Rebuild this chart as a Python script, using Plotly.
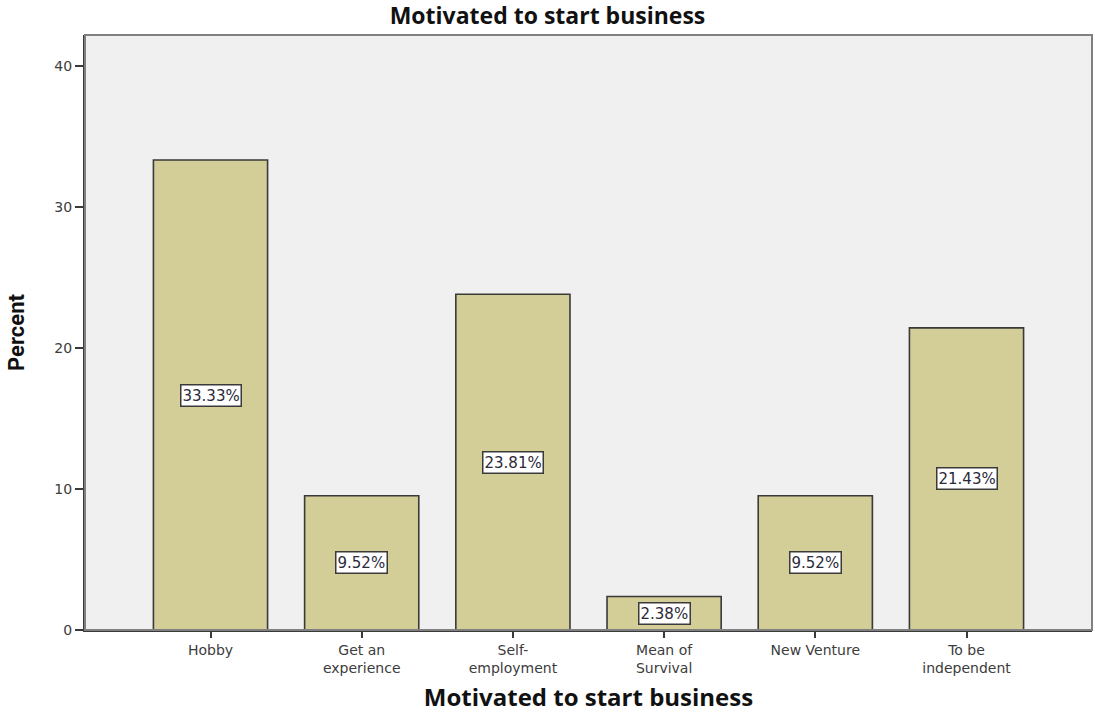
import plotly.graph_objects as go

# Motivation categories and their share of respondents (%)
categories = ["Hobby", "Get an<br>experience", "Self-<br>employment",
              "Mean of<br>Survival", "New Venture", "To be<br>independent"]
percent = [33.33, 9.52, 23.81, 2.38, 9.52, 21.43]
y_ticks = [0, 10, 20, 30, 40]

bar_fill = "#d3cd97"
edge = "#3a3a3a"
tick_font = dict(family="DejaVu Sans", size=14, color="#3c3c3c")

fig = go.Figure(
    go.Bar(
        x=list(range(len(categories))),
        y=percent,
        width=0.755,
        marker=dict(color=bar_fill, line=dict(color=edge, width=1.6)),
        hoverinfo="skip",
    )
)

# Value boxes at mid-height of each bar
for i, v in enumerate(percent):
    fig.add_annotation(
        x=i, y=v / 2, text=f"{v:.2f}%", showarrow=False,
        font=dict(family="DejaVu Sans", size=15, color="#2a2a3a"),
        bgcolor="white", bordercolor=edge, borderwidth=1.5, borderpad=1,
    )

# Plot frame
fig.add_shape(type="rect", xref="paper", yref="paper", x0=0, y0=0, x1=1, y1=1,
              line=dict(color="#808080", width=2), layer="above")

fig.update_layout(
    width=1095, height=713,
    margin=dict(l=85, r=3, t=35, b=83),
    paper_bgcolor="white",
    plot_bgcolor="#f0f0f0",
    showlegend=False,
    title=dict(text="<b>Motivated to start business</b>", x=0.5, xanchor="center",
               y=0.978, yanchor="middle",
               font=dict(family="Open Sans", size=23, color="#111111")),
    xaxis=dict(
        range=[-0.83, 5.83], tickmode="array",
        tickvals=list(range(len(categories))), ticktext=categories,
        ticks="outside", ticklen=6, tickwidth=2, tickcolor=edge,
        showline=True, linecolor=edge, linewidth=2,
        showgrid=False, zeroline=False, tickfont=tick_font,
        title=dict(text="<b>Motivated to start business</b>", standoff=14,
                   font=dict(family="Open Sans", size=24, color="#111111")),
    ),
    yaxis=dict(
        range=[0, 42.2], tickvals=y_ticks,
        ticks="outside", ticklen=8, tickwidth=2, tickcolor=edge,
        showline=True, linecolor=edge, linewidth=2,
        showgrid=False, zeroline=False, tickfont=tick_font,
        title=dict(text="<b>Percent</b>", standoff=24,
                   font=dict(family="Liberation Sans Narrow, Roboto", size=22, color="#111111")),
    ),
)

fig.write_html("out.html")
